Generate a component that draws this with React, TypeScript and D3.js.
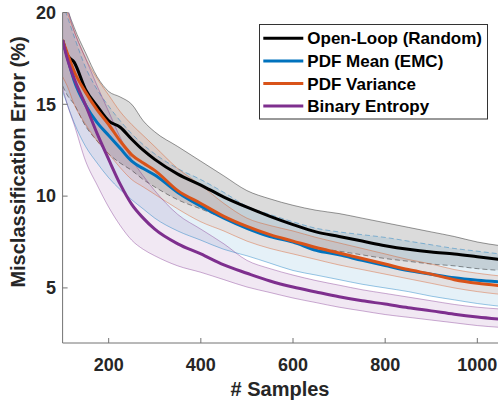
import React from "react";
import * as d3 from "d3";

const samples = [100, 110, 125, 150, 175, 200, 225, 250, 275, 300, 350, 400, 450, 500, 550, 600, 650, 700, 750, 800, 850, 900, 950, 1000, 1050];

const openLoop = [18.5, 17.7, 17.3, 15.8, 14.9, 14.1, 13.75, 13.1, 12.5, 12.0, 11.2, 10.6, 9.95, 9.4, 8.9, 8.45, 8.05, 7.8, 7.55, 7.3, 7.1, 6.95, 6.85, 6.7, 6.55];
const openLoopUpper = [21.5, 20.3, 19.2, 17.8, 16.5, 15.7, 15.4, 15.0, 14.1, 13.5, 12.7, 11.9, 11.1, 10.3, 9.85, 9.5, 9.23, 9.05, 8.8, 8.55, 8.3, 8.05, 7.8, 7.5, 7.3];
const openLoopLower = [16.0, 15.5, 15.0, 13.8, 13.0, 12.3, 11.8, 11.4, 10.9, 10.5, 9.8, 9.3, 8.8, 8.3, 7.9, 7.55, 7.2, 7.0, 6.8, 6.6, 6.45, 6.3, 6.2, 6.05, 5.95];

const pdfMean = [18.5, 17.6, 16.3, 14.95, 14.0, 13.3, 12.6, 11.9, 11.5, 11.15, 10.2, 9.45, 8.8, 8.25, 7.8, 7.5, 7.05, 6.8, 6.5, 6.22, 5.95, 5.75, 5.55, 5.42, 5.33];
const pdfMeanUpper = [20.5, 19.8, 18.7, 17.0, 15.8, 14.9, 14.1, 13.4, 12.8, 12.3, 11.5, 10.9, 10.2, 9.45, 9.0, 8.6, 8.25, 8.05, 7.9, 7.75, 7.55, 7.35, 7.15, 7.0, 6.85];
const pdfMeanLower = [15.7, 15.0, 14.0, 12.7, 11.8, 11.0, 10.35, 9.8, 9.3, 8.8, 8.1, 7.6, 7.1, 6.75, 6.35, 5.95, 5.7, 5.45, 5.2, 5.0, 4.8, 4.55, 4.35, 4.15, 4.0];

const pdfVariance = [18.5, 17.8, 16.8, 15.65, 14.7, 13.9, 13.0, 12.25, 11.8, 11.4, 10.3, 9.6, 8.9, 8.35, 7.9, 7.55, 7.2, 6.9, 6.6, 6.3, 6.0, 5.75, 5.45, 5.25, 5.12];
const pdfVarianceUpper = [20.8, 20.0, 19.0, 17.5, 16.4, 15.5, 14.6, 13.9, 13.3, 12.7, 11.5, 10.6, 9.6, 8.8, 8.4, 8.1, 7.75, 7.45, 7.15, 6.85, 6.55, 6.3, 6.0, 5.8, 5.65];
const pdfVarianceLower = [16.5, 16.0, 15.0, 13.9, 13.0, 12.3, 11.55, 10.9, 10.5, 10.1, 9.3, 8.6, 8.1, 7.55, 7.15, 6.85, 6.55, 6.25, 6.0, 5.75, 5.5, 5.25, 5.0, 4.8, 4.65];

const binaryEntropy = [18.5, 17.5, 16.4, 14.95, 13.4, 12.0, 10.65, 9.55, 8.8, 8.2, 7.4, 6.85, 6.25, 5.8, 5.38, 5.05, 4.78, 4.52, 4.3, 4.12, 3.92, 3.75, 3.57, 3.42, 3.3];
const binaryEntropyUpper = [21.5, 20.3, 19.0, 17.5, 16.0, 14.6, 13.2, 12.0, 11.1, 10.3, 9.0, 8.2, 7.4, 6.5, 6.05, 5.7, 5.4, 5.15, 4.9, 4.7, 4.5, 4.3, 4.1, 3.95, 3.85];
const binaryEntropyLower = [15.9, 15.0, 13.9, 11.9, 10.6, 9.4, 8.4, 7.6, 7.1, 6.75, 6.2, 5.85, 5.45, 5.05, 4.75, 4.45, 4.2, 3.95, 3.75, 3.55, 3.4, 3.25, 3.1, 2.95, 2.85];

const seriesNames = ["Open-Loop (Random)", "PDF Mean (EMC)", "PDF Variance", "Binary Entropy"];
const xTicks = [200, 400, 600, 800, 1000];
const yTicks = [5, 10, 15, 20];

const seriesValues = [openLoop, pdfMean, pdfVariance, binaryEntropy];
const seriesUpper = [openLoopUpper, pdfMeanUpper, pdfVarianceUpper, binaryEntropyUpper];
const seriesLower = [openLoopLower, pdfMeanLower, pdfVarianceLower, binaryEntropyLower];
const colors = ["#000000", "#0072BD", "#D95319", "#7E2F8E"];
const fillOpacity = [0.14, 0.1, 0.1, 0.11];
const upperDash = [null, "5,3", null, null];
const lowerDash = ["5,3", null, null, null];

const W = 498;
const H = 406;
const left = 62.6;
const top = 12.5;
const bottom = 343;
const FONT = "'Liberation Sans', Arial, Helvetica, sans-serif";

export default function App() {
  const x = d3.scaleLinear().domain([100, 1050]).range([left, left + 950 * 0.4608]);
  const y = d3.scaleLinear().domain([2, 20]).range([bottom, top]);

  const line = (vals: number[]) =>
    d3.line<number>().curve(d3.curveMonotoneX).x((_, i) => x(samples[i])).y((v) => y(v))(vals) || "";
  const area = (lo: number[], hi: number[]) =>
    d3
      .area<number>()
      .curve(d3.curveMonotoneX)
      .x((_, i) => x(samples[i]))
      .y0((_, i) => y(lo[i]))
      .y1((_, i) => y(hi[i]))(samples) || "";

  return (
    <svg width={W} height={H} style={{ position: "absolute", left: 0, top: 0, background: "#fff" }} fontFamily={FONT}>
      <defs>
        <clipPath id="plotclip">
          <rect x={left} y={top} width={W - left} height={bottom - top} />
        </clipPath>
      </defs>
      <g clipPath="url(#plotclip)">
        {seriesValues.map((_, k) => (
          <path key={"a" + k} d={area(seriesLower[k], seriesUpper[k])} fill={colors[k]} fillOpacity={fillOpacity[k]} stroke="none" />
        ))}
        {seriesValues.map((_, k) => (
          <g key={"e" + k}>
            <path d={line(seriesUpper[k])} fill="none" stroke={colors[k]} strokeOpacity={0.4} strokeWidth={1} strokeDasharray={upperDash[k] || undefined} />
            <path d={line(seriesLower[k])} fill="none" stroke={colors[k]} strokeOpacity={0.4} strokeWidth={1} strokeDasharray={lowerDash[k] || undefined} />
          </g>
        ))}
        {seriesValues.map((vals, k) => (
          <path key={"l" + k} d={line(vals)} fill="none" stroke={colors[k]} strokeWidth={3} strokeLinejoin="round" />
        ))}
      </g>
      <line x1={left} x2={left} y1={top} y2={bottom} stroke="#737373" strokeWidth={1} />
      <line x1={left} x2={W} y1={bottom} y2={bottom} stroke="#737373" strokeWidth={1} />
      {yTicks.map((t) => (
        <g key={"yt" + t}>
          <line x1={left} x2={left + 5} y1={y(t)} y2={y(t)} stroke="#737373" />
          <text x={56} y={y(t)} dy="0.35em" textAnchor="end" fontSize={18} fontWeight="bold" fill="#262626">
            {t}
          </text>
        </g>
      ))}
      {xTicks.map((t) => (
        <g key={"xt" + t}>
          <line x1={x(t)} x2={x(t)} y1={bottom} y2={bottom - 5} stroke="#737373" />
          <text x={x(t)} y={370.5} textAnchor="middle" fontSize={18} fontWeight="bold" fill="#262626">
            {t}
          </text>
        </g>
      ))}
      <text x={280} y={396} textAnchor="middle" fontSize={20} fontWeight="bold" fill="#262626">
        # Samples
      </text>
      <text transform={`translate(25,162) rotate(-90)`} textAnchor="middle" fontSize={20} fontWeight="bold" fill="#262626">
        Misclassification Error (%)
      </text>
      <rect x={259.5} y={24.5} width={228} height={94.5} fill="#fff" stroke="#333" strokeWidth={1} />
      {seriesNames.map((n, k) => (
        <g key={"lg" + k}>
          <line x1={263.3} x2={303.3} y1={38.3 + k * 22.6} y2={38.3 + k * 22.6} stroke={colors[k]} strokeWidth={3} />
          <text x={307.3} y={38.3 + k * 22.6} dy="0.36em" fontSize={17} fontWeight="bold" fill="#000">
            {n}
          </text>
        </g>
      ))}
    </svg>
  );
}
